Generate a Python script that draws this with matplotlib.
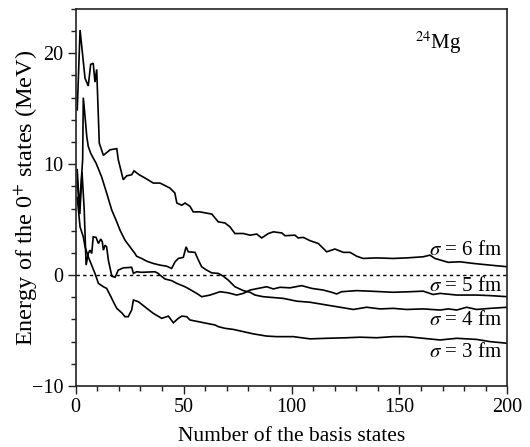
import matplotlib
matplotlib.use("Agg")
import matplotlib.pyplot as plt
from matplotlib.ticker import MultipleLocator

plt.rcParams['font.family'] = ['Liberation Serif', 'DejaVu Serif']
plt.rcParams['mathtext.fontset'] = 'stix'

# Convergence of the 0+ energy versus number of basis states, for four Gaussian widths
n_s6 = [0.8, 2.1, 4.4, 5.9, 7.0, 8.2, 9.0, 9.8, 11.0, 12.9, 16.0, 19.1, 19.8, 22.1, 23.7, 26.0, 27.1,
        29.1, 29.9, 32.2, 36.0, 39.1, 43.7, 46.0, 46.9, 49.2, 50.7, 53.0, 54.5, 57.6, 63.1, 66.1,
        69.2, 71.5, 73.8, 77.7, 80.8, 83.9, 86.2, 89.3, 91.6, 95.5, 97.0, 101.6, 103.1, 105.5,
        108.6, 112.4, 116.3, 120.1, 124.0, 127.1, 130.2, 133.2, 139.4, 147.1, 153.3, 161.0, 164.1,
        166.4, 172.6, 178.0, 184.2, 191.9, 200.0]
e_s6 = [14.9, 22.1, 17.75, 17.05, 19.0, 19.1, 17.4, 18.55, 11.9, 10.8, 11.3, 11.4, 10.4, 8.6, 8.95,
        9.05, 9.4, 9.1, 9.0, 8.75, 8.3, 8.3, 7.85, 7.4, 6.5, 6.3, 6.5, 6.2, 5.7, 5.7, 5.5, 4.8,
        4.7, 4.35, 3.75, 3.75, 3.6, 3.7, 3.35, 3.75, 3.9, 3.8, 3.55, 3.6, 3.35, 3.4, 3.1, 2.85,
        2.1, 2.35, 2.05, 2.05, 1.7, 1.5, 1.55, 1.5, 1.55, 1.65, 1.8, 1.5, 1.15, 1.2, 1.05, 0.9, 0.75]

n_s5 = [0.8, 1.8, 3.3, 3.6, 4.4, 5.2, 5.9, 7.0, 8.2, 9.5, 12.1, 14.4, 16.8, 19.1, 20.6, 22.9, 25.2,
        27.5, 28.3, 30.6, 33.0, 36.0, 39.1, 42.2, 44.5, 46.1, 47.6, 49.9, 51.2, 52.2, 55.3, 56.9,
        58.4, 60.7, 63.1, 66.1, 68.4, 70.7, 73.8, 77.7, 80.8, 83.1, 86.9, 90.0, 96.2, 102.4, 108.6,
        116.3, 122.5, 128.6, 134.8, 141.0, 147.1, 153.3, 161.0, 168.8, 172.6, 176.5, 181.1, 185.7,
        191.9, 200.0]
e_s5 = [9.5, 6.0, 10.4, 16.0, 14.3, 12.5, 11.6, 11.0, 10.55, 10.1, 8.85, 7.4, 5.85, 4.8, 4.05,
        3.15, 2.55, 1.95, 1.7, 1.5, 1.25, 1.05, 0.9, 0.8, 0.6, 1.2, 1.5, 1.6, 2.55, 2.1, 2.05,
        1.35, 0.75, 0.45, 0.2, 0.15, -0.1, -0.45, -1.05, -1.4, -1.55, -1.8, -1.95, -2.0, -2.1,
        -2.35, -2.45, -2.7, -2.9, -3.1, -2.9, -3.05, -3.0, -3.1, -3.05, -3.15, -3.05, -3.15,
        -2.9, -3.1, -3.0, -2.9]

n_s4 = [0.8, 2.0, 3.0, 4.0, 4.9, 5.9, 6.7, 7.5, 8.2, 9.5, 10.6, 11.7, 12.4, 12.9, 13.7, 14.4, 15.2,
        16.8, 18.3, 19.8, 22.1, 26.0, 26.8, 28.3, 30.6, 36.8, 38.3, 39.1, 41.4, 44.5, 46.9, 50.7,
        53.0, 56.1, 58.4, 62.3, 66.9, 70.7, 74.6, 77.7, 80.8, 84.6, 88.5, 91.6, 94.7, 99.3, 104.7,
        109.4, 114.7, 118.6, 120.9, 123.2, 130.2, 136.3, 147.1, 154.9, 161.0, 165.6, 168.8, 176.5,
        185.7, 191.9, 200.0]
e_s4 = [8.5, 5.5, 9.3, 6.0, 0.9, 1.95, 2.25, 1.95, 3.45, 3.4, 2.85, 3.25, 3.0, 2.25, 2.7, 2.55,
        1.35, -0.1, -0.2, 0.45, 0.65, 0.7, 0.15, 0.3, 0.25, 0.3, 0.15, 0.0, -0.35, -0.5, -0.75,
        -1.05, -1.3, -1.65, -1.95, -1.8, -1.5, -1.6, -1.8, -1.65, -1.35, -1.2, -1.05, -1.25, -1.1,
        -1.15, -0.95, -1.2, -1.35, -1.55, -1.7, -1.5, -1.4, -1.45, -1.55, -1.5, -1.45, -1.75,
        -1.65, -1.8, -1.8, -1.85, -1.95]

n_s3 = [0.8, 2.1, 3.6, 4.4, 5.9, 9.0, 10.6, 12.9, 14.4, 16.0, 17.5, 19.1, 21.4, 22.9, 24.4, 26.0,
        26.8, 29.1, 33.0, 36.0, 39.9, 43.0, 45.3, 47.6, 49.2, 51.5, 53.0, 56.9, 60.7, 64.6, 66.1,
        69.2, 73.1, 77.7, 82.3, 88.5, 93.1, 100.8, 108.6, 116.3, 125.6, 131.7, 139.4, 147.1, 153.3,
        161.0, 168.8, 176.5, 185.7, 191.9, 200.0]
e_s3 = [7.0, 4.35, 3.45, 2.55, 1.65, 0.15, -0.75, -1.05, -1.2, -1.8, -2.4, -3.0, -3.4, -3.75,
        -3.75, -3.15, -2.25, -2.4, -3.0, -3.45, -3.9, -3.7, -4.3, -3.9, -3.7, -3.75, -4.05, -4.2,
        -4.35, -4.5, -4.65, -4.8, -4.9, -5.1, -5.3, -5.5, -5.55, -5.55, -5.75, -5.7, -5.65, -5.6,
        -5.65, -5.55, -5.55, -5.7, -5.85, -5.7, -5.8, -6.0, -6.15]

series = [(n_s6, e_s6), (n_s5, e_s5), (n_s4, e_s4), (n_s3, e_s3)]
curve_labels = [r"$\sigma$ = 6 fm", r"$\sigma$ = 5 fm", r"$\sigma$ = 4 fm", r"$\sigma$ = 3 fm"]
label_y = [2.25, -1.0, -4.05, -6.95]

fig = plt.figure(figsize=(5.30, 4.47), dpi=100)
ax = fig.add_axes([0.1425, 0.1365, 0.815, 0.8435])

for n, e in series:
    ax.plot(n, e, color='black', lw=1.2, solid_joinstyle='miter')

ax.axhline(0, color='black', lw=1.0, ls=(0, (2.4, 2.4)))

for txt, y in zip(curve_labels, label_y):
    ax.text(197.3, y, txt, ha='right', va='center', fontsize=15)

ax.text(167.8, 21.0, r"$^{24}$Mg", ha='center', va='center', fontsize=15)

ax.set_xlim(0, 200)
ax.set_ylim(-10, 24)
ax.xaxis.set_major_locator(MultipleLocator(50))
ax.xaxis.set_minor_locator(MultipleLocator(10))
ax.yaxis.set_major_locator(MultipleLocator(10))
ax.yaxis.set_minor_locator(MultipleLocator(2))
ax.tick_params(which='both', direction='out', top=False, right=False, labelsize=14.5,
               width=1.0, color='#222222')
ax.tick_params(which='major', length=5.5)
ax.tick_params(which='minor', length=3.5)
ax.set_yticks([-10, 0, 10, 20])
ax.set_yticklabels(["\u221210", "0", "10", "20"])
for s in ax.spines.values():
    s.set_linewidth(1.2)
    s.set_color('#222222')

ax.set_xlabel("Number of the basis states", fontsize=15.5, labelpad=7)
ax.set_ylabel(r"Energy of the 0$^{+}$ states (MeV)", fontsize=17.5)
ax.yaxis.label.set_va('center')
ax.yaxis.set_label_coords(-0.115, 0.5)

fig.savefig("out.png", dpi=100)
